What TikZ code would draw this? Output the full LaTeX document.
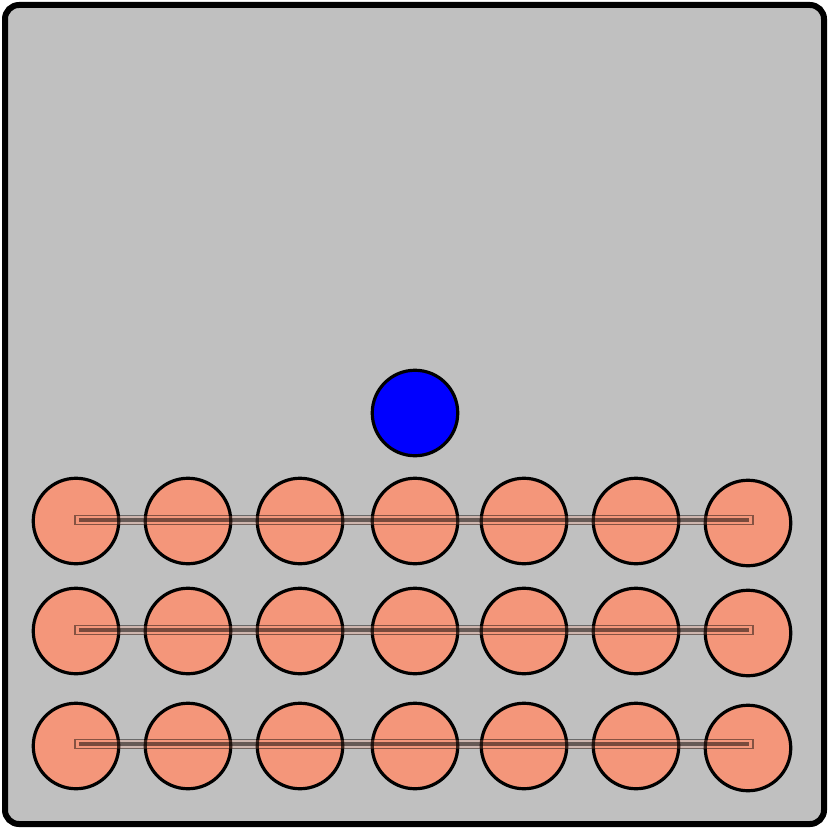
\documentclass[tikz,border=0pt]{standalone}
\begin{document}
\begin{tikzpicture}[x=1pt,y=-1pt,
  frame/.style={draw=black,line width=6pt,fill=boxgray,rounded corners=14pt},
  ball/.style={circle,draw=black,line width=3.2pt,fill=salmonc,minimum size=85.5pt,inner sep=0pt},
  blueball/.style={circle,draw=black,line width=3.2pt,fill=blue,minimum size=85.5pt,inner sep=0pt},
  rodbox/.style={draw=black,draw opacity=0.45,line width=1.6pt,fill=salmonc,fill opacity=0.25},
  rodline/.style={draw=black,draw opacity=0.5,line width=4pt}]
\definecolor{boxgray}{RGB}{192,192,192}
\definecolor{salmonc}{RGB}{244,150,122}
\useasboundingbox (0,0) rectangle (829,829);
\draw[frame] (5,5) rectangle (824,824);
\node[blueball] (b) at (415,413) {};
\foreach \r/\y/\yl in {1/521/523,2/631/633,3/746/748}{
  \foreach \i/\x in {1/76,2/188,3/300,4/415,5/524,6/636}{
    \node[ball] (c\r\i) at (\x,\y) {};
  }
  \node[ball] (c\r7) at (748,\yl) {};
}
\foreach \r/\y in {1/520,2/630,3/744}{
  \coordinate (l\r) at (75,\y);
  \coordinate (rr\r) at (753,\y);
  \draw[rodbox] ([yshift=-4.5pt]l\r) rectangle ([yshift=4.5pt]rr\r);
  \draw[rodline] ([xshift=4pt]l\r) -- ([xshift=-4pt]rr\r);
}
\end{tikzpicture}
\end{document}
